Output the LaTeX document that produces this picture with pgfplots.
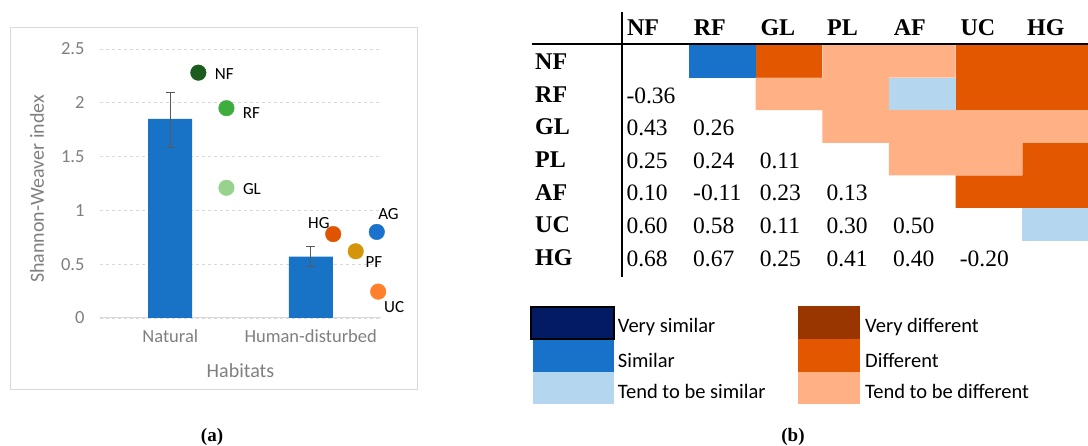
\documentclass[border=0pt]{standalone}
\usepackage{pgfplots}
\pgfplotsset{compat=1.18}
\usepackage{pgfplotstable}
\usepackage{fontspec}
\setmainfont{Liberation Serif}
\newfontfamily\calib{Carlito}

\definecolor{barblue}{HTML}{1872C6}
\definecolor{axisgray}{HTML}{D9D9D9}
\definecolor{gridgray}{HTML}{D9D9D9}
\definecolor{labgray}{HTML}{7F7F7F}
\definecolor{errgray}{HTML}{595959}
\definecolor{cNF}{HTML}{1D5C1F}
\definecolor{cRF}{HTML}{3DAE3D}
\definecolor{cGL}{HTML}{97D38D}
\definecolor{cHG}{HTML}{E05400}
\definecolor{cPF}{HTML}{D4950A}
\definecolor{cAG}{HTML}{1A72CC}
\definecolor{cUC}{HTML}{FF7F2A}
\definecolor{vsim}{HTML}{021B62}
\definecolor{sim}{HTML}{1872C9}
\definecolor{tsim}{HTML}{B4D7EF}
\definecolor{vdiff}{HTML}{993600}
\definecolor{diff}{HTML}{E35700}
\definecolor{tdiff}{HTML}{FFB185}

\pgfplotstableread{
x y ep em
0 1.85 0.25 0.27
1 0.57 0.09 0.09
}\bardata

\tikzset{
  num/.style={anchor=west, inner sep=0pt, font=\fontsize{23.5}{26}\selectfont},
  hdr/.style={anchor=west, inner sep=0pt, font=\bfseries\fontsize{24}{26}\selectfont},
  ptlab/.style={anchor=center, font=\calib\fontsize{17}{20}\selectfont, text=black},
  leg/.style={anchor=west, inner sep=0pt, font=\calib\fontsize{20.5}{22}\selectfont},
}

\begin{document}
\begin{tikzpicture}
\path[use as bounding box] (0pt,0pt) rectangle (1088pt,446pt);

% frame of panel (a)
\draw[draw=axisgray, line width=1pt] (10pt,418pt) rectangle (417pt,56pt);

\begin{axis}[
  at={(100pt,128pt)}, anchor=south west, scale only axis,
  width=281pt, height=269pt,
  xmin=-0.5, xmax=1.5, ymin=0, ymax=2.5,
  xtick={0,1}, xticklabels={Natural,Human-disturbed},
  ytick={0,0.5,1,1.5,2,2.5},
  axis x line*=bottom, axis y line*=left,
  y axis line style={draw=none},
  x axis line style={draw=axisgray, line width=1pt, -},
  major tick length=0pt,
  ymajorgrids, grid style={dashed, draw=gridgray, line width=0.9pt},
  /pgf/number format/assume math mode=true,
  tick label style={font=\calib\fontsize{18.5}{20}\selectfont, text=labgray},
  yticklabel style={xshift=-12pt},
  xticklabel style={yshift=-8pt},
  xlabel={Habitats}, ylabel={Shannon-Weaver index},
  label style={font=\calib\fontsize{20}{22}\selectfont, text=labgray},
  xlabel style={at={(axis description cs:0.5,-0.197)}, anchor=center},
  ylabel style={at={(axis description cs:-0.224,0.48)}, anchor=center},
  clip=false,
]
\addplot[ybar, bar width=44pt, fill=barblue, draw=none,
  error bars/.cd, y dir=both, y explicit,
  error bar style={draw=errgray, line width=1pt},
  error mark options={rotate=90, mark size=4.5pt, line width=1pt, draw=errgray}]
  table[x=x, y=y, y error plus=ep, y error minus=em]{\bardata};

\addplot[only marks, mark=*, mark size=7.8pt, color=cNF,
  nodes near coords={NF}, every node near coord/.append style={ptlab, xshift=26pt, yshift=-1.3pt}]
  coordinates {(0.2,2.28)};
\addplot[only marks, mark=*, mark size=7.8pt, color=cRF,
  nodes near coords={RF}, every node near coord/.append style={ptlab, xshift=25pt, yshift=-4.4pt}]
  coordinates {(0.4,1.95)};
\addplot[only marks, mark=*, mark size=7.8pt, color=cGL,
  nodes near coords={GL}, every node near coord/.append style={ptlab, xshift=25.5pt, yshift=-1.3pt}]
  coordinates {(0.4,1.21)};
\addplot[only marks, mark=*, mark size=7.8pt, color=cHG,
  nodes near coords={HG}, every node near coord/.append style={ptlab, xshift=-14.4pt, yshift=11.4pt}]
  coordinates {(1.16,0.78)};
\addplot[only marks, mark=*, mark size=7.8pt, color=cPF,
  nodes near coords={PF}, every node near coord/.append style={ptlab, xshift=18.2pt, yshift=-10.7pt}]
  coordinates {(1.32,0.62)};
\addplot[only marks, mark=*, mark size=7.8pt, color=cAG,
  nodes near coords={AG}, every node near coord/.append style={ptlab, xshift=11.7pt, yshift=18.3pt}]
  coordinates {(1.47,0.80)};
\addplot[only marks, mark=*, mark size=7.8pt, color=cUC,
  nodes near coords={UC}, every node near coord/.append style={ptlab, xshift=16pt, yshift=-15pt}]
  coordinates {(1.48,0.245)};
\end{axis}

% panel (b): matrix
\begin{axis}[
  at={(622.3pt,172.8pt)}, anchor=south west, scale only axis,
  width=466.7pt, height=228.2pt,
  xmin=0, xmax=7, ymin=0, ymax=7, y dir=reverse,
  axis lines=none, clip=false,
]
% similar
\addplot[fill=sim, draw=none] coordinates {(1,0) (2,0) (2,1) (1,1)} -- cycle;
% different
\addplot[fill=diff, draw=none] coordinates {(2,0) (3,0) (3,1) (2,1)} -- cycle;
\addplot[fill=diff, draw=none] coordinates {(5,0) (7,0) (7,2) (5,2)} -- cycle;
\addplot[fill=diff, draw=none] coordinates {(6,3) (7,3) (7,5) (5,5) (5,4) (6,4)} -- cycle;
% tend to be different
\addplot[fill=tdiff, draw=none] coordinates {(3,0) (5,0) (5,1) (4,1) (4,2) (7,2) (7,3) (6,3) (6,4) (4,4) (4,3) (3,3) (3,2) (2,2) (2,1) (3,1)} -- cycle;
% tend to be similar
\addplot[fill=tsim, draw=none] coordinates {(4,1) (5,1) (5,2) (4,2)} -- cycle;
\addplot[fill=tsim, draw=none] coordinates {(6,5) (7,5) (7,6) (6,6)} -- cycle;

% headers
\node[hdr] at (axis cs:0.07,-0.52) {NF};
\node[hdr] at (axis cs:1.07,-0.52) {RF};
\node[hdr] at (axis cs:2.07,-0.52) {GL};
\node[hdr] at (axis cs:3.07,-0.52) {PL};
\node[hdr] at (axis cs:4.07,-0.52) {AF};
\node[hdr] at (axis cs:5.07,-0.52) {UC};
\node[hdr] at (axis cs:6.07,-0.52) {HG};
% row labels
\node[hdr] at (axis cs:-1.309,0.52) {NF};
\node[hdr] at (axis cs:-1.309,1.52) {RF};
\node[hdr] at (axis cs:-1.309,2.52) {GL};
\node[hdr] at (axis cs:-1.309,3.52) {PL};
\node[hdr] at (axis cs:-1.309,4.52) {AF};
\node[hdr] at (axis cs:-1.309,5.52) {UC};
\node[hdr] at (axis cs:-1.309,6.52) {HG};
% values
\node[num] at (axis cs:0.06,1.55) {-0.36};
\node[num] at (axis cs:0.06,2.55) {0.43};
\node[num] at (axis cs:1.06,2.55) {0.26};
\node[num] at (axis cs:0.06,3.55) {0.25};
\node[num] at (axis cs:1.06,3.55) {0.24};
\node[num] at (axis cs:2.06,3.55) {0.11};
\node[num] at (axis cs:0.06,4.55) {0.10};
\node[num] at (axis cs:1.06,4.55) {-0.11};
\node[num] at (axis cs:2.06,4.55) {0.23};
\node[num] at (axis cs:3.06,4.55) {0.13};
\node[num] at (axis cs:0.06,5.55) {0.60};
\node[num] at (axis cs:1.06,5.55) {0.58};
\node[num] at (axis cs:2.06,5.55) {0.11};
\node[num] at (axis cs:3.06,5.55) {0.30};
\node[num] at (axis cs:4.06,5.55) {0.50};
\node[num] at (axis cs:0.06,6.55) {0.68};
\node[num] at (axis cs:1.06,6.55) {0.67};
\node[num] at (axis cs:2.06,6.55) {0.25};
\node[num] at (axis cs:3.06,6.55) {0.41};
\node[num] at (axis cs:4.06,6.55) {0.40};
\node[num] at (axis cs:5.06,6.55) {-0.20};
\end{axis}

% table rules
\draw[line width=1.8pt] (531.7pt,401.7pt) -- (1088pt,401.7pt);
\draw[line width=1.8pt] (621.7pt,434.3pt) -- (621.7pt,169.3pt);

% legend of (b)
\fill[vsim] (531pt,139pt) rectangle (614pt,107pt);
\draw[black, line width=1.5pt] (531pt,139pt) rectangle (614pt,107pt);
\fill[sim] (532.7pt,106pt) rectangle (614pt,74.3pt);
\fill[tsim] (532.7pt,74.3pt) rectangle (614pt,41.7pt);
\fill[vdiff] (798.3pt,140pt) rectangle (860pt,107pt);
\fill[diff] (798.3pt,107pt) rectangle (860pt,74.3pt);
\fill[tdiff] (798.3pt,74.3pt) rectangle (860pt,41.7pt);
\node[leg] at (617.7pt,119.3pt) {Very similar};
\node[leg] at (617.7pt,86pt) {Similar};
\node[leg] at (617.7pt,54.3pt) {Tend to be similar};
\node[leg] at (865pt,119.3pt) {Very different};
\node[leg] at (865pt,86pt) {Different};
\node[leg] at (865pt,54.3pt) {Tend to be different};

% panel labels
\node[font=\bfseries\fontsize{19}{21}\selectfont] at (212pt,9pt) {(a)};
\node[font=\bfseries\fontsize{19}{21}\selectfont] at (793pt,9pt) {(b)};
\end{tikzpicture}
\end{document}
